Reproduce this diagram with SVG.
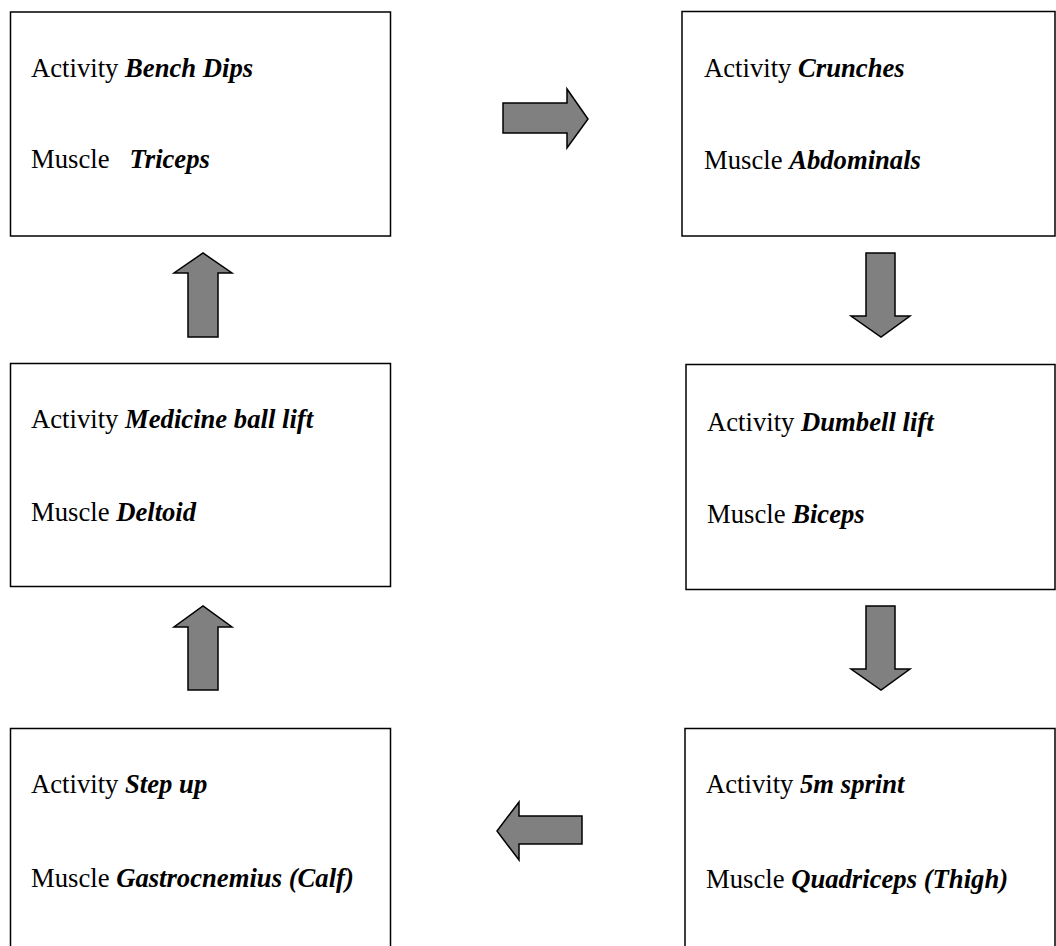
<svg xmlns="http://www.w3.org/2000/svg" width="1056" height="946" viewBox="0 0 1056 946">
<style>
.box{fill:#fff;stroke:#000;stroke-width:1.5}
.arr{fill:#808080;stroke:#000;stroke-width:1.5;stroke-linejoin:miter}
text{font-family:"Liberation Serif","Times New Roman",serif;font-size:26.67px;fill:#000;white-space:pre}
.b{font-weight:bold;font-style:italic}
</style>
<rect width="1056" height="946" fill="#fff"/>
<g id="node-bench-dips">
<rect class="box" x="10.5" y="12" width="380" height="224"/>
<text x="31" y="77">Activity <tspan class="b">Bench Dips</tspan></text>
<text x="31" y="168" xml:space="preserve">Muscle   <tspan class="b">Triceps</tspan></text>
</g>
<g id="node-crunches">
<rect class="box" x="682" y="11.5" width="373" height="224.5"/>
<text x="704" y="77">Activity <tspan class="b">Crunches</tspan></text>
<text x="704" y="169">Muscle <tspan class="b">Abdominals</tspan></text>
</g>
<g id="node-dumbell-lift">
<rect class="box" x="686" y="364.5" width="369" height="225"/>
<text x="707" y="431">Activity <tspan class="b">Dumbell lift</tspan></text>
<text x="707" y="523">Muscle <tspan class="b">Biceps</tspan></text>
</g>
<g id="node-5m-sprint">
<rect class="box" x="685" y="728.5" width="370" height="230"/>
<text x="706" y="793">Activity <tspan class="b">5m sprint</tspan></text>
<text x="706" y="888">Muscle <tspan class="b">Quadriceps (Thigh)</tspan></text>
</g>
<g id="node-step-up">
<rect class="box" x="10.5" y="728.5" width="380" height="230"/>
<text x="31" y="793">Activity <tspan class="b">Step up</tspan></text>
<text x="31" y="887">Muscle <tspan class="b">Gastrocnemius (Calf)</tspan></text>
</g>
<g id="node-medicine-ball-lift">
<rect class="box" x="10.5" y="363.5" width="380" height="223"/>
<text x="31" y="428">Activity <tspan class="b">Medicine ball lift</tspan></text>
<text x="31" y="521">Muscle <tspan class="b">Deltoid</tspan></text>
</g>
<g id="connectors">
<polygon class="arr" points="503,103 567,103 567,89 588,119 567,148 567,133 503,133"/>
<polygon class="arr" points="866,253 895,253 895,316 910,316 881,337 851,316 866,316"/>
<polygon class="arr" points="866,606 895,606 895,669 910,669 881,690 851,669 866,669"/>
<polygon class="arr" points="582,816 519,816 519,802 497,831 519,860 519,844 582,844"/>
<polygon class="arr" points="188,690 188,627 174,627 203,606 232,627 218,627 218,690"/>
<polygon class="arr" points="188,337 188,273 174,273 203,253 232,273 218,273 218,337"/>
</g>
</svg>
